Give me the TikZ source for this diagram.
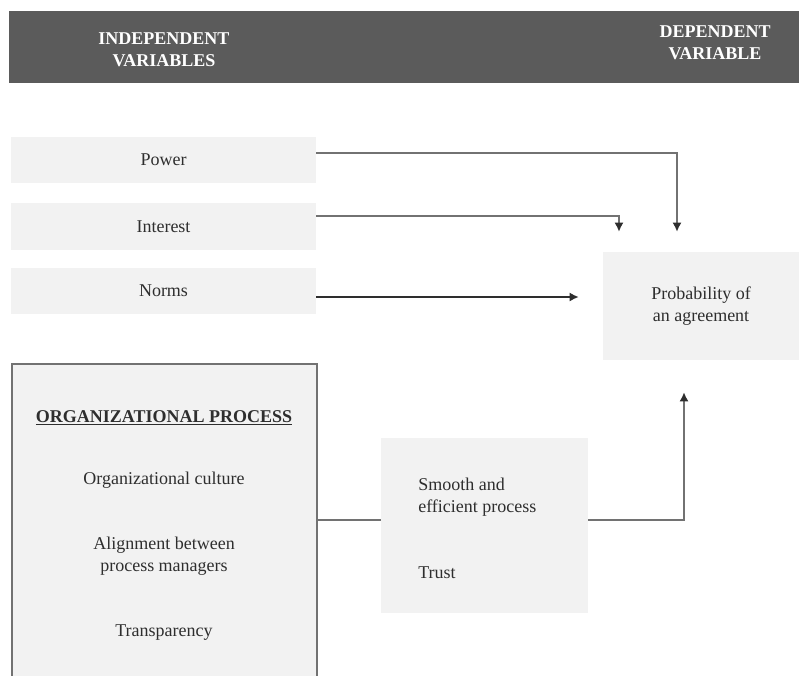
\documentclass[tikz,border=0pt]{standalone}
\usepackage{fontspec}
\setmainfont{Liberation Serif}
\definecolor{mBarGray}{HTML}{5B5B5B}
\definecolor{mBoxFill}{HTML}{F2F2F2}
\definecolor{mLineGray}{HTML}{727272}
\definecolor{mTextDark}{HTML}{2E2E2E}
\usetikzlibrary{positioning,arrows.meta,calc}

\begin{document}
\begin{tikzpicture}[x=0.025cm, y=-0.025cm, font=\fontsize{12.8}{16}\selectfont, text=mTextDark,
  varbox/.style={fill=mBoxFill, minimum width=7.625cm, minimum height=1.16cm, align=center},
  link/.style={draw=mLineGray, line width=1.1pt},
  arr/.style={link, -{Latex[length=6.5pt,width=6.5pt,color=mTextDark]}}]
\useasboundingbox (0,0) rectangle (799,675);
\clip (0,0) rectangle (799,675);
% header
\node[fill=mBarGray, minimum width=19.75cm, minimum height=1.8cm] (bar) at (404,47) {};
\node[text=white, font=\fontsize{12.8}{15.4}\selectfont\bfseries, align=center] (indep) at (164,49.5) {INDEPENDENT\\VARIABLES};
\node[text=white, font=\fontsize{12.8}{15.4}\selectfont\bfseries, align=center] (dep) at (715,43) {DEPENDENT\\VARIABLE};
% independent variables
\node[varbox] (power) at (163.5,160) {Power};
\node[varbox, minimum height=1.175cm] (interest) at (163.5,226.5) {Interest};
\node[varbox] (norms) at (163.5,291) {Norms};
\node[fill=mBoxFill, minimum width=4.9cm, minimum height=2.7cm, align=center] (prob) at (701,306) {Probability of\\ an agreement};
% organizational process
\node[fill=mBoxFill, draw=mLineGray, line width=1.1pt, minimum width=7.625cm, minimum height=8.15cm] (orgproc) at (164.5,527) {};
\node[font=\fontsize{12.8}{16}\selectfont\bfseries] (orgtitle) at (164,418) {\underline{ORGANIZATIONAL PROCESS}};
\node (culture) at (164,480) {Organizational culture};
\node[align=center] (align) at (164,556) {Alignment between\\ process managers};
\node (transp) at (164,633) {Transparency};
\node[fill=mBoxFill, minimum width=5.175cm, minimum height=4.375cm] (smooth) at (484.5,525.5) {};
\node[anchor=west, align=left, inner sep=0pt] (effic) at (418,497) {Smooth and\\ efficient process};
\node[anchor=west, inner sep=0pt] (trust) at (418,573) {Trust};
% connectors
\draw[arr, shorten >=0.5cm] ([yshift=0.175cm]power.east) -| ([xshift=-0.6cm]prob.north);
\draw[arr, shorten >=0.5cm] ([yshift=0.26cm]interest.east) -| ([xshift=-2.05cm]prob.north);
\draw[arr, draw=mTextDark, shorten >=0.6cm] ([yshift=-0.15cm]norms.east) -- ([yshift=-0.15cm]norms.east -| prob.west);
\draw[link] ([yshift=0.14cm]smooth.west -| orgproc.east) -- ([yshift=0.14cm]smooth.west);
\draw[arr, shorten >=0.8cm] ([yshift=0.14cm]smooth.east) -| ([xshift=-0.425cm]prob.south);
\end{tikzpicture}
\end{document}
